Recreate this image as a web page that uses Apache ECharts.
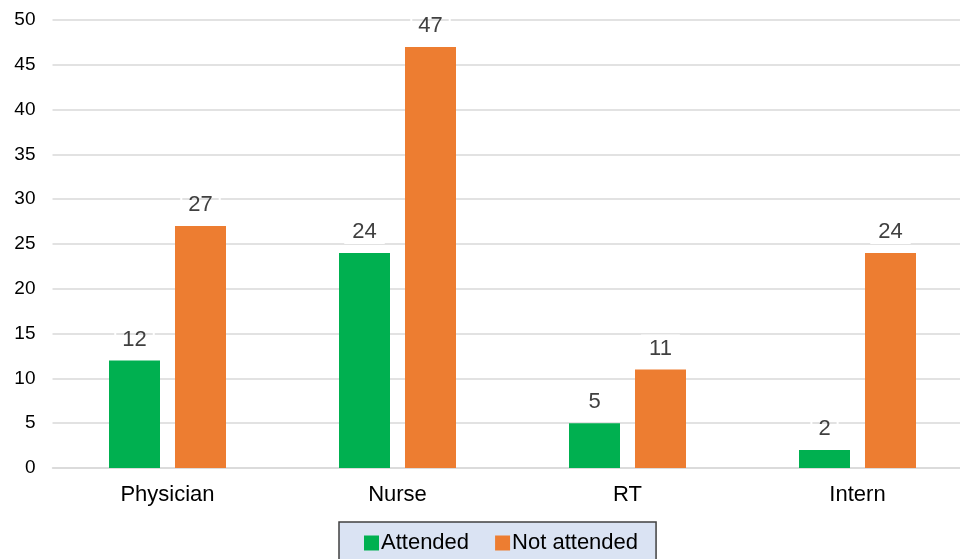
<!DOCTYPE html>
<html><head><meta charset="utf-8">
<script src="https://cdn.jsdelivr.net/npm/echarts@6/dist/echarts.min.js"></script>
<style>html,body{margin:0;padding:0;background:#fff}#c{width:960px;height:559px}</style>
</head><body><div id="c"></div>
<script>
const categories = ["Physician", "Nurse", "RT", "Intern"];
const attended = [12, 24, 5, 2];
const notAttended = [27, 47, 11, 24];
const yTicks = [0, 5, 10, 15, 20, 25, 30, 35, 40, 45, 50];

const FONT = 'Liberation Sans, Arial, sans-serif';
const chart = echarts.init(document.getElementById('c'), null, {renderer: 'canvas'});
const labelStyle = {
  show: true, position: 'top', distance: 10,
  fontFamily: FONT, fontSize: 22, color: '#404040',
  borderColor: '#fff', borderWidth: 2, padding: [2, 7, 0, 7]
};
chart.setOption({
  animation: false,
  grid: {left: 52.5, width: 920, top: 20, bottom: 91, outerBoundsMode: 'none', containLabel: false},
  legend: {
    top: 522, left: 339,
    backgroundColor: '#dae3f3', borderColor: '#404040', borderWidth: 1.5,
    padding: [10, 18, 30, 25],
    itemWidth: 15, itemHeight: 15, itemGap: 26,
    icon: 'rect',
    textStyle: {fontFamily: FONT, fontSize: 22, color: '#000', padding: [0, 0, 0, -3]},
    data: ['Attended', 'Not attended']
  },
  xAxis: {
    type: 'category', data: categories,
    axisLine: {lineStyle: {color: '#d9d9d9', width: 1.5}},
    axisTick: {show: false},
    axisLabel: {fontFamily: FONT, fontSize: 22, color: '#000', margin: 16}
  },
  yAxis: {
    type: 'value', min: yTicks[0], max: yTicks[yTicks.length - 1], interval: 5,
    axisLine: {show: false}, axisTick: {show: false},
    splitLine: {lineStyle: {color: '#d9d9d9', width: 1.5}},
    axisLabel: {fontFamily: FONT, fontSize: 19, color: '#000', margin: 17, align: 'right'}
  },
  series: [
    {name: 'Attended', type: 'bar', data: attended, barWidth: 51, barGap: '29.4%',
     itemStyle: {color: '#00b050'}, label: labelStyle},
    {name: 'Not attended', type: 'bar', data: notAttended, barWidth: 51,
     itemStyle: {color: '#ed7d31'}, label: labelStyle}
  ]
});
</script></body></html>
